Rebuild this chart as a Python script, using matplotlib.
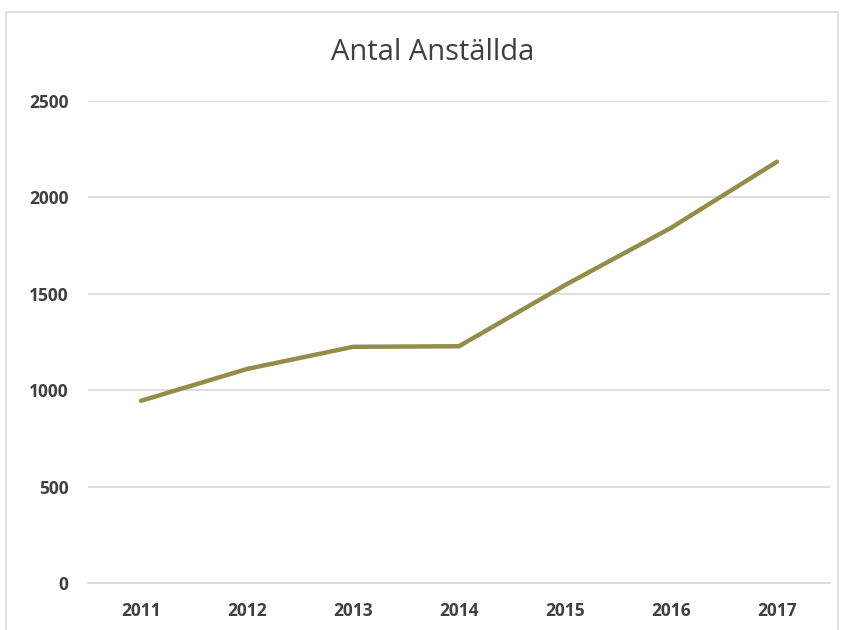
import matplotlib
matplotlib.use("Agg")
from matplotlib import pyplot as plt
from matplotlib.patches import Rectangle

years = ['2011', '2012', '2013', '2014', '2015', '2016', '2017']
employees = [945, 1110, 1225, 1228, 1545, 1842, 2185]
yticks = [0, 500, 1000, 1500, 2000, 2500]

line_color = '#948D4A'
text_color = '#404040'
grid_color = '#D9D9D9'

plt.rcParams['font.family'] = ['Open Sans', 'DejaVu Sans']

fig = plt.figure(figsize=(8.45, 6.3), dpi=100, facecolor='white')
ax = fig.add_axes([88 / 845, 1 - 583 / 630, (830 - 88) / 845, (583 - 101) / 630])

# chart frame
fig.patches.append(Rectangle((6 / 845, -0.05), (838 - 6) / 845, 1.05 - 12 / 630,
                             transform=fig.transFigure, fill=False,
                             edgecolor=grid_color, linewidth=1.2))

x = list(range(len(years)))
ax.plot(x, employees, color=line_color, linewidth=3.2, solid_capstyle='round',
        solid_joinstyle='round', zorder=3)

ax.set_xlim(-0.5, len(years) - 0.5)
ax.set_ylim(0, 2500)
ax.set_yticks(yticks)
ax.set_yticklabels([str(v) for v in yticks])
ax.set_xticks(x)
ax.set_xticklabels(years)
ax.grid(axis='y', color=grid_color, linewidth=1.2)
ax.set_axisbelow(True)
for s in ['top', 'right', 'left']:
    ax.spines[s].set_visible(False)
ax.spines['bottom'].set_color(grid_color)
ax.spines['bottom'].set_linewidth(1.2)
ax.tick_params(axis='both', length=0, colors=text_color, labelsize=12.5)
ax.tick_params(axis='y', pad=14)
ax.tick_params(axis='x', pad=14)
for lbl in ax.get_xticklabels() + ax.get_yticklabels():
    lbl.set_fontweight('bold')

fig.text(433 / 845, 1 - 52 / 630, 'Antal Anställda', ha='center', va='center',
         fontsize=21, color=text_color)

fig.savefig('out.png', dpi=100, facecolor='white')
